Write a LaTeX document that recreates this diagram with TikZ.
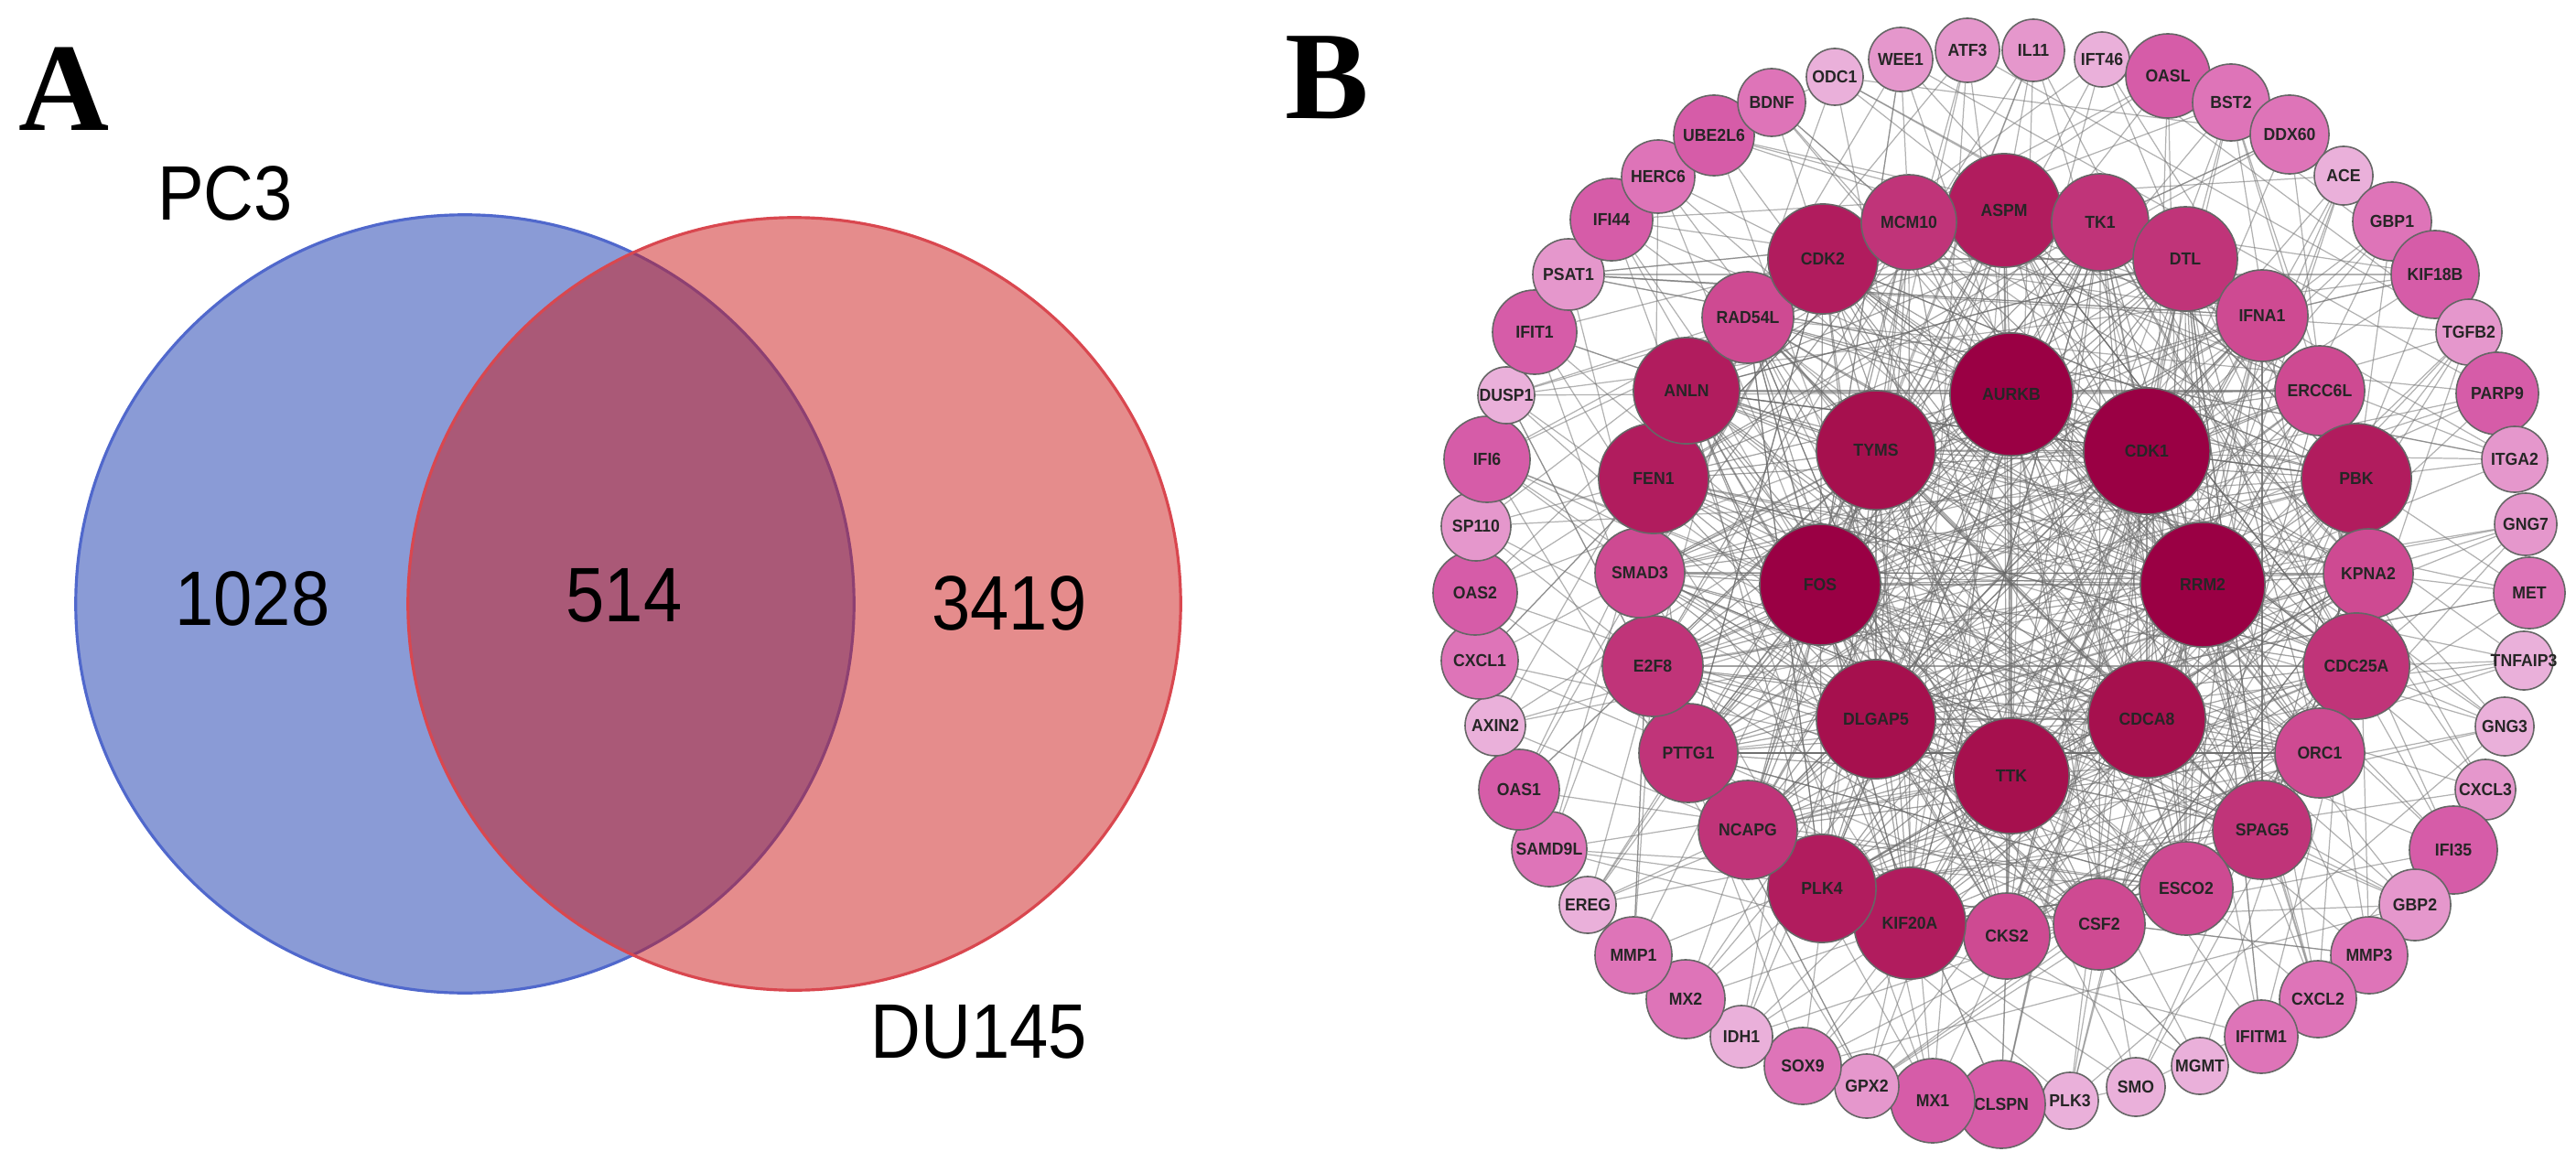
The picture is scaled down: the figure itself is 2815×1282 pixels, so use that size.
\documentclass[tikz,border=0pt]{standalone}
\usepackage{fontspec}
\setmainfont{Liberation Sans}
\newfontfamily\panelfont{Liberation Serif}
\usepackage{graphicx}
\usetikzlibrary{backgrounds}
\definecolor{k1}{HTML}{9A0044}
\definecolor{k2}{HTML}{A6104E}
\definecolor{k3}{HTML}{B11C5E}
\definecolor{k4}{HTML}{C03479}
\definecolor{k5}{HTML}{CE4A92}
\definecolor{k6}{HTML}{D65CA8}
\definecolor{k7}{HTML}{DE74B8}
\definecolor{k8}{HTML}{E597CC}
\definecolor{k9}{HTML}{EAB0DA}
\definecolor{vennblue}{HTML}{8A9BD6}
\definecolor{vennbluedge}{HTML}{5068CC}
\definecolor{vennred}{RGB}{203,25,25}
\definecolor{vennrededge}{HTML}{D9474F}
\newcommand{\glab}[1]{\makebox[0pt]{\scalebox{0.93}[1]{\bfseries #1}}}
\tikzset{
  gene/.style 2 args={circle, draw=black!60, line width=0.45pt, fill=#2,
    minimum size=#1*0.02cm, inner sep=0pt,
    font=\fontsize{5.4}{6}\selectfont, text=black!85},
  edge/.style={draw=black!55, line width=0.35pt, opacity=0.55},
  inedge/.style={draw=black!60, line width=0.35pt, opacity=0.6},
  vlabel/.style={font=\fontsize{24}{28}\selectfont, inner sep=0pt, anchor=base},
  panel/.style={font=\panelfont\bfseries\fontsize{39}{44}\selectfont, inner sep=0pt, anchor=base west}
}
\begin{document}
\begin{tikzpicture}[x=0.01cm, y=-0.01cm]
\useasboundingbox (0,0) rectangle (2815,1282);
% ---------------- Panel A : Venn diagram ----------------
\node[panel] (labA) at (20,143) {A};
\fill[vennblue] (508,660) circle[radius=4.25cm];
\draw[vennbluedge, line width=0.9pt] (508,660) circle[radius=4.25cm];
\fill[vennred, fill opacity=0.5] (868,660) circle[radius=4.22cm];
\draw[vennrededge, line width=0.9pt] (868,660) circle[radius=4.22cm];
\node[vlabel] (pc3) at (246,241) {\scalebox{0.9}[1]{PC3}};
\node[vlabel] (n1028) at (276,683) {\scalebox{0.9}[1]{1028}};
\node[vlabel] (n514) at (682,679) {\scalebox{0.9}[1]{514}};
\node[vlabel] (n3419) at (1103,688) {\scalebox{0.9}[1]{3419}};
\node[vlabel] (du145) at (1070,1156) {\scalebox{0.9}[1]{DU145}};
% ---------------- Panel B : network ----------------
\node[panel] (labB) at (1404,130) {B};
% inner circle
\foreach \g/\x/\y/\r/\c [count=\i] in {
  AURKB/2198/431/67/k1, CDK1/2346/493/69/k1, RRM2/2407/639/68/k1,
  CDCA8/2346/786/64/k2, TTK/2198/848/63/k2, DLGAP5/2050/786/65/k2,
  FOS/1989/639/66/k1, TYMS/2050/492/65/k2}
  \node[gene={\r}{\c}, alias=c\i] (\g) at (\x,\y) {\glab{\g}};
% middle circle
\foreach \g/\x/\y/\r/\c [count=\i] in {
  ASPM/2190/230/62/k3, TK1/2295/243/53/k4, DTL/2388/283/57/k4,
  IFNA1/2472/345/50/k5, ERCC6L/2535/427/49/k5, PBK/2575/523/60/k3,
  KPNA2/2588/627/49/k5, CDC25A/2575/728/58/k4, ORC1/2535/823/49/k5,
  SPAG5/2472/907/54/k4, ESCO2/2389/971/51/k5, CSF2/2294/1010/50/k5,
  CKS2/2193/1023/47/k5, KIF20A/2087/1009/61/k3, PLK4/1991/971/59/k3,
  NCAPG/1910/907/54/k4, PTTG1/1845/823/54/k4, E2F8/1806/728/55/k4,
  SMAD3/1792/626/49/k5, FEN1/1807/523/60/k3, ANLN/1843/427/58/k3,
  RAD54L/1910/347/50/k5, CDK2/1992/283/60/k3, MCM10/2086/243/52/k4}
  \node[gene={\r}{\c}, alias=m\i] (\g) at (\x,\y) {\glab{\g}};
% outer circle
\foreach \g/\x/\y/\r/\c [count=\i] in {
  WEE1/2077/65/35/k8, ATF3/2150/55/35/k8, IL11/2222/55/34/k8,
  IFT46/2297/65/30/k9, OASL/2369/83/46/k6, BST2/2438/112/42/k7,
  DDX60/2502/147/43/k7, ACE/2561/192/32/k9, GBP1/2614/242/43/k7,
  KIF18B/2661/300/48/k6, TGFB2/2698/363/36/k8, PARP9/2729/430/45/k6,
  ITGA2/2748/502/36/k8, GNG7/2760/573/34/k8, MET/2764/648/39/k7,
  TNFAIP3/2758/722/32/k9, GNG3/2737/794/32/k9, CXCL3/2716/863/33/k8,
  IFI35/2681/929/48/k6, GBP2/2639/989/39/k8, MMP3/2589/1044/42/k7,
  CXCL2/2533/1092/42/k7, IFITM1/2471/1133/40/k7, MGMT/2404/1165/31/k9,
  SMO/2334/1188/32/k9, PLK3/2262/1203/31/k9, CLSPN/2187/1207/48/k6,
  MX1/2112/1203/46/k6, GPX2/2040/1187/35/k8, SOX9/1970/1165/42/k7,
  IDH1/1903/1133/34/k9, MX2/1842/1092/43/k7, MMP1/1785/1044/42/k7,
  EREG/1735/989/31/k9, SAMD9L/1693/928/41/k7, OAS1/1660/863/44/k6,
  AXIN2/1634/793/33/k9, CXCL1/1617/722/42/k7, OAS2/1612/648/46/k6,
  SP110/1613/575/38/k8, IFI6/1625/502/47/k6, DUSP1/1646/432/31/k9,
  IFIT1/1677/363/46/k6, PSAT1/1714/300/39/k8, IFI44/1761/240/45/k6,
  HERC6/1812/193/40/k7, UBE2L6/1873/148/44/k6, BDNF/1936/112/37/k7,
  ODC1/2005/84/31/k9}
  \node[gene={\r}{\c}, alias=o\i] (\g) at (\x,\y) {\glab{\g}};
% edges
\begin{scope}[on background layer]
  \pgfmathsetseed{2718}
  \foreach \i in {1,...,8}{
    \foreach \j in {\i,...,8}{
      \ifnum\i<\j \draw[inedge] (c\i) -- (c\j); \fi
    }
    \foreach \j in {1,...,24}{ \draw[inedge] (c\i) -- (m\j); }
  }
  \foreach \k in {1,...,170}{
    \pgfmathtruncatemacro\a{random(1,24)}
    \pgfmathtruncatemacro\b{random(1,24)}
    \ifnum\a=\b\relax\else \draw[inedge] (m\a) -- (m\b); \fi
  }
  \foreach \i in {1,...,49}{
    \foreach \k in {1,...,5}{
      \pgfmathtruncatemacro\j{random(1,32)}
      \ifnum\j>24
        \pgfmathtruncatemacro\jj{\j-24}
        \draw[edge] (o\i) -- (c\jj);
      \else
        \draw[edge] (o\i) -- (m\j);
      \fi
    }
  }
  \foreach \k in {1,...,35}{
    \pgfmathtruncatemacro\a{random(1,49)}
    \pgfmathtruncatemacro\b{random(1,49)}
    \ifnum\a=\b\relax\else \draw[edge] (o\a) -- (o\b); \fi
  }
  \draw[edge] (KPNA2) -- (MET);
  \draw[edge] (CDC25A) -- (TNFAIP3);
\end{scope}
\end{tikzpicture}
\end{document}
